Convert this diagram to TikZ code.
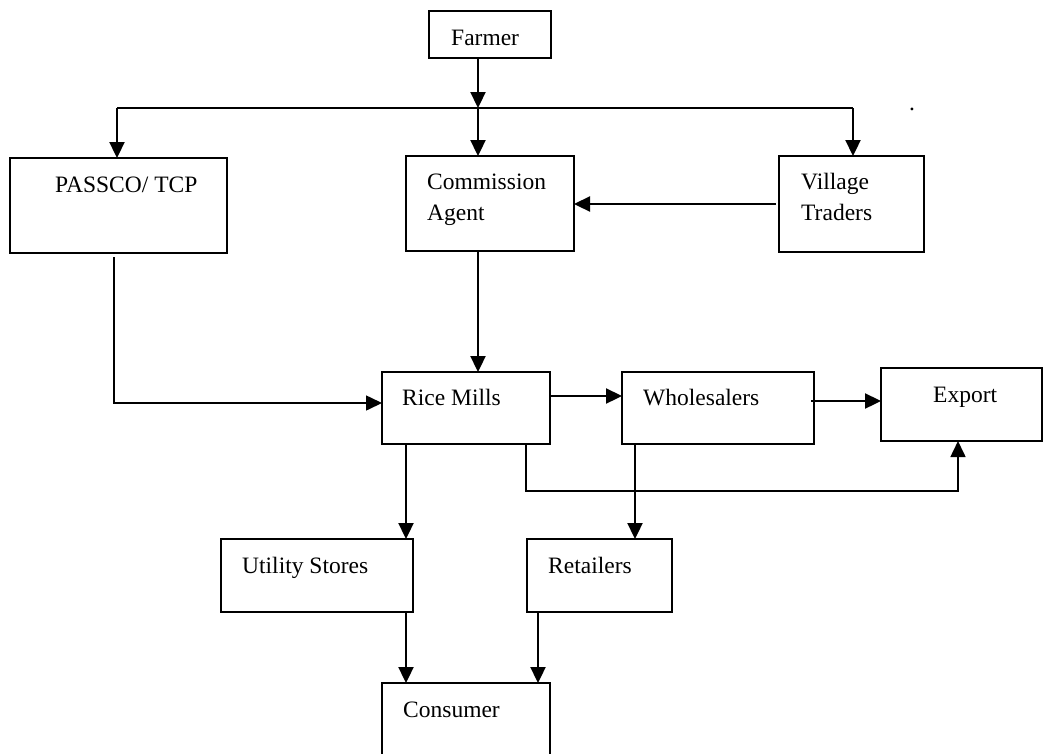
\documentclass[tikz,border=0pt]{standalone}
\usepackage{fontspec}
\setmainfont{Liberation Serif}
\usetikzlibrary{arrows.meta}
\begin{document}
\begin{tikzpicture}[x=1pt,y=-1pt,
  box/.style={draw,line width=1.9pt,rectangle,anchor=north west,inner sep=0pt,outer sep=0pt},
  lbl/.style={anchor=base west,inner sep=0pt,font=\fontsize{23.5}{30}\selectfont},
  conn/.style={line width=2.3pt},
  thinconn/.style={line width=1.6pt},
  arr/.style={conn,-{Triangle[length=16pt,width=15pt]}},
  thinarr/.style={thinconn,-{Triangle[length=16pt,width=15pt]}}]
\path[use as bounding box] (0,0) rectangle (1044,753);
\clip (0,0) rectangle (1044,753);

% boxes
\node[box,minimum width=122pt,minimum height=47pt] (fa) at (429,11) {};
\node[box,minimum width=217pt,minimum height=95pt] (pa) at (10,158) {};
\node[box,minimum width=168pt,minimum height=95pt] (ca) at (406,156) {};
\node[box,minimum width=145pt,minimum height=96pt] (vt) at (779,156) {};
\node[box,minimum width=168pt,minimum height=72pt] (rm) at (382,372) {};
\node[box,minimum width=192pt,minimum height=72pt] (ws) at (622,372) {};
\node[box,minimum width=161pt,minimum height=73pt] (ex) at (881,368) {};
\node[box,minimum width=192pt,minimum height=73pt] (us) at (221,539) {};
\node[box,minimum width=145pt,minimum height=73pt] (rt) at (527,539) {};
\node[box,minimum width=168pt,minimum height=90pt] (co) at (382,683) {};

% labels
\node[lbl] (tfa) at (451,45) {Farmer};
\node[lbl] (tpa) at (55,192) {PASSCO/ TCP};
\node[lbl] (tca1) at (427,189) {Commission};
\node[lbl] (tca2) at (427,220) {Agent};
\node[lbl] (tvt1) at (801,189) {Village};
\node[lbl] (tvt2) at (801,220) {Traders};
\node[lbl] (trm) at (402,405) {Rice Mills};
\node[lbl] (tws) at (643,405) {Wholesalers};
\node[lbl] (tex) at (933,402) {Export};
\node[lbl] (tus) at (242,573) {Utility Stores};
\node[lbl] (trt) at (548,573) {Retailers};
\node[lbl] (tco) at (403,717) {Consumer};
\node[lbl] (dot) at (909,110) {.};

% junction points of the distribution bar
\coordinate (j) at (478,108);
\coordinate (jl) at (117,108);
\coordinate (jr) at (853,108);
\coordinate (pc) at (114,403);
\coordinate (rmx) at (526,491);
\coordinate (exx) at (958,491);
\coordinate (uc) at (406,0);
\coordinate (wr) at (635,0);
\coordinate (rc) at (538,0);

% farmer to the three first buyers
\draw[arr] (fa.south -| j) -- (j);
\draw[conn] (jl) -- (jr);
\draw[arr] (jl) -- (jl |- pa.north);
\draw[arr] (j) -- (j |- ca.north);
\draw[arr] (jr) -- (jr |- vt.north);

% village traders to commission agent
\draw[arr] ([xshift=-3pt]vt.west) -- (ca.east |- vt.west);

% to the rice mills
\draw[arr] (j |- ca.south) -- (j |- rm.north);
\draw[thinarr] ([yshift=-4pt]pa.south -| pc) -- (pc) -- (rm.west |- pc);

% rice mills onward
\draw[arr] ([yshift=12pt]rm.east) -- ([yshift=12pt]rm.east -| ws.west);
\draw[arr] ([xshift=-3pt,yshift=7pt]ws.east) -- ([yshift=7pt]ws.east -| ex.west);
\draw[thinarr] (rm.south -| rmx) -- (rmx) -- (exx) -- (exx |- ex.south);
\draw[arr] (rm.south -| uc) -- (us.north -| uc);
\draw[arr] (ws.south -| wr) -- (rt.north -| wr);

% to the consumer
\draw[arr] (us.south -| uc) -- (co.north -| uc);
\draw[arr] (rt.south -| rc) -- (co.north -| rc);
\end{tikzpicture}
\end{document}
